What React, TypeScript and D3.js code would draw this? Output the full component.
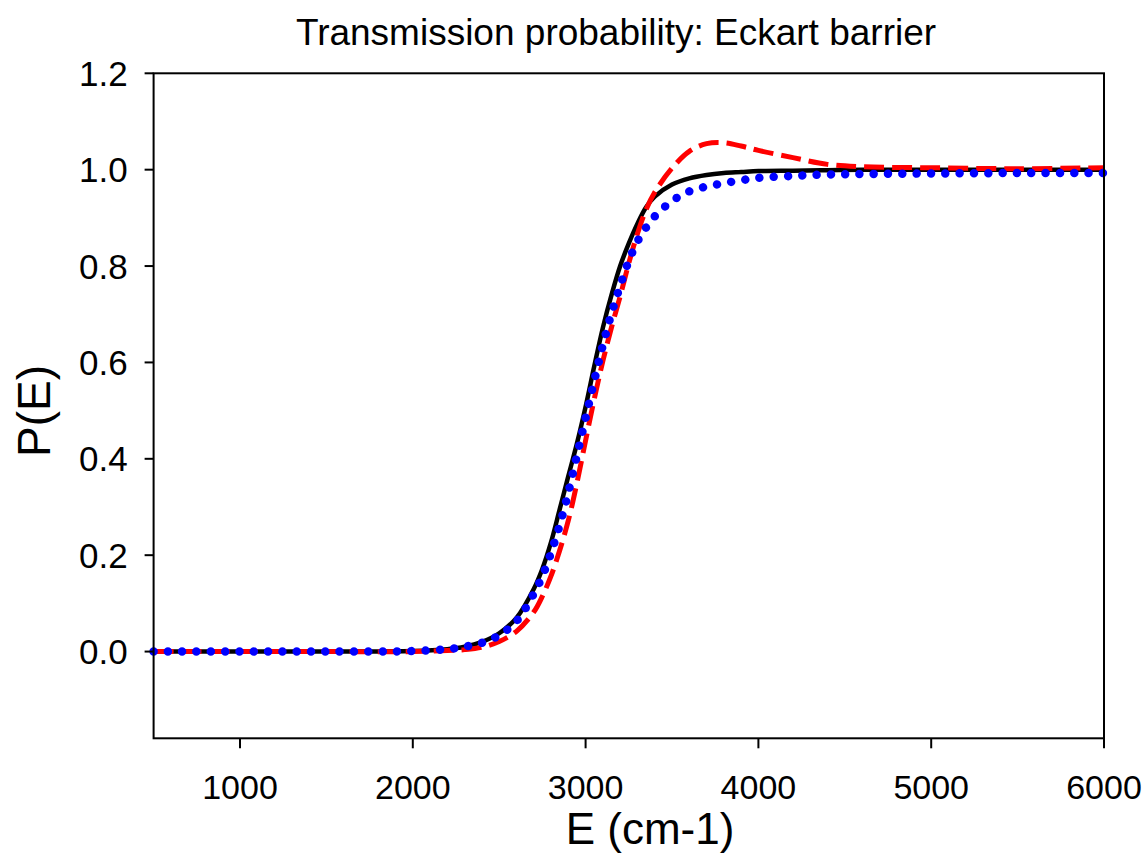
import React from "react";
import * as d3 from "d3";

const energies = [500, 1000, 1500, 2000, 2200, 2300, 2400, 2500, 2600, 2700, 2750, 2800, 2850, 2900, 2950, 3000, 3050, 3100, 3150, 3200, 3250, 3300, 3350, 3400, 3500, 3600, 3700, 3800, 3900, 4000, 4200, 4400, 4600, 5000, 5500, 6000];

const exactP = [0, 0, 0, 0.001, 0.005, 0.01, 0.02, 0.038, 0.07, 0.13, 0.172, 0.227, 0.295, 0.364, 0.432, 0.508, 0.592, 0.672, 0.74, 0.8, 0.847, 0.888, 0.922, 0.944, 0.969, 0.982, 0.989, 0.993, 0.995, 0.997, 0.998, 0.999, 1.0, 1.0, 1.0, 1.0];

const dashedP = [0, 0, 0, 0, 0.002, 0.004, 0.009, 0.021, 0.042, 0.082, 0.115, 0.157, 0.21, 0.272, 0.35, 0.438, 0.524, 0.603, 0.673, 0.737, 0.806, 0.867, 0.917, 0.953, 1.003, 1.038, 1.054, 1.056, 1.049, 1.04, 1.025, 1.011, 1.006, 1.004, 1.002, 1.004];

const dottedP = [0, 0, 0, 0.001, 0.005, 0.01, 0.018, 0.034, 0.063, 0.12, 0.157, 0.205, 0.262, 0.33, 0.407, 0.485, 0.562, 0.636, 0.702, 0.759, 0.811, 0.851, 0.88, 0.903, 0.935, 0.955, 0.965, 0.972, 0.978, 0.983, 0.987, 0.99, 0.991, 0.992, 0.993, 0.993];

const xTicks = [1000, 2000, 3000, 4000, 5000, 6000];
const yTicks = [0, 0.2, 0.4, 0.6, 0.8, 1.0, 1.2];

const title = "Transmission probability: Eckart barrier";
const xLabel = "E (cm-1)";
const yLabel = "P(E)";

const FONT = "'Liberation Sans', Arial, Helvetica, sans-serif";

export default function App() {
  const W = 1148;
  const H = 857;
  const left = 153.6;
  const right = 1104;
  const top = 73.3;
  const bottom = 738.3;

  const x = d3.scaleLinear().domain([500, 6000]).range([left, right]);
  const y = d3.scaleLinear().domain([-0.18, 1.2]).range([bottom, top]);

  const mk = (vals: number[]) =>
    d3
      .line<number>()
      .x((_, i) => x(energies[i]))
      .y((v) => y(v))
      .curve(d3.curveCatmullRom.alpha(0.5))(vals) || "";

  return (
    <svg
      width={W}
      height={H}
      style={{ position: "absolute", left: 0, top: 0, background: "#fff" }}
      fontFamily={FONT}
    >
      <rect x={0} y={0} width={W} height={H} fill="#fff" />
      <text x={616} y={45} textAnchor="middle" fontSize={37} fill="#000">
        {title}
      </text>

      {/* series */}
      <path d={mk(exactP)} fill="none" stroke="#000" strokeWidth={4.5} />
      <path
        d={mk(dashedP)}
        fill="none"
        stroke="#ff0000"
        strokeWidth={5}
        strokeDasharray="20 8"
      />
      <path
        d={mk(dottedP)}
        fill="none"
        stroke="#0000ff"
        strokeWidth={8.5}
        strokeLinecap="round"
        strokeDasharray="0.01 14.3"
      />

      {/* frame */}
      <rect
        x={left}
        y={top}
        width={right - left}
        height={bottom - top}
        fill="none"
        stroke="#000"
        strokeWidth={2}
      />

      {/* y ticks */}
      {yTicks.map((t) => (
        <g key={"y" + t}>
          <line x1={left - 9} x2={left} y1={y(t)} y2={y(t)} stroke="#000" strokeWidth={2} />
          <text
            x={left - 26}
            y={y(t)}
            dy="0.36em"
            textAnchor="end"
            fontSize={35}
            fill="#000"
          >
            {t.toFixed(1)}
          </text>
        </g>
      ))}

      {/* x ticks */}
      {xTicks.map((t) => (
        <g key={"x" + t}>
          <line x1={x(t)} x2={x(t)} y1={bottom} y2={bottom + 10} stroke="#000" strokeWidth={2} />
          <text x={x(t)} y={799} textAnchor="middle" fontSize={34} fill="#000">
            {t}
          </text>
        </g>
      ))}

      <text x={650} y={844} textAnchor="middle" fontSize={44} fill="#000">
        {xLabel}
      </text>
      <text
        transform={`translate(50, 411) rotate(-90)`}
        textAnchor="middle"
        fontSize={46}
        fill="#000"
      >
        {yLabel}
      </text>
    </svg>
  );
}
